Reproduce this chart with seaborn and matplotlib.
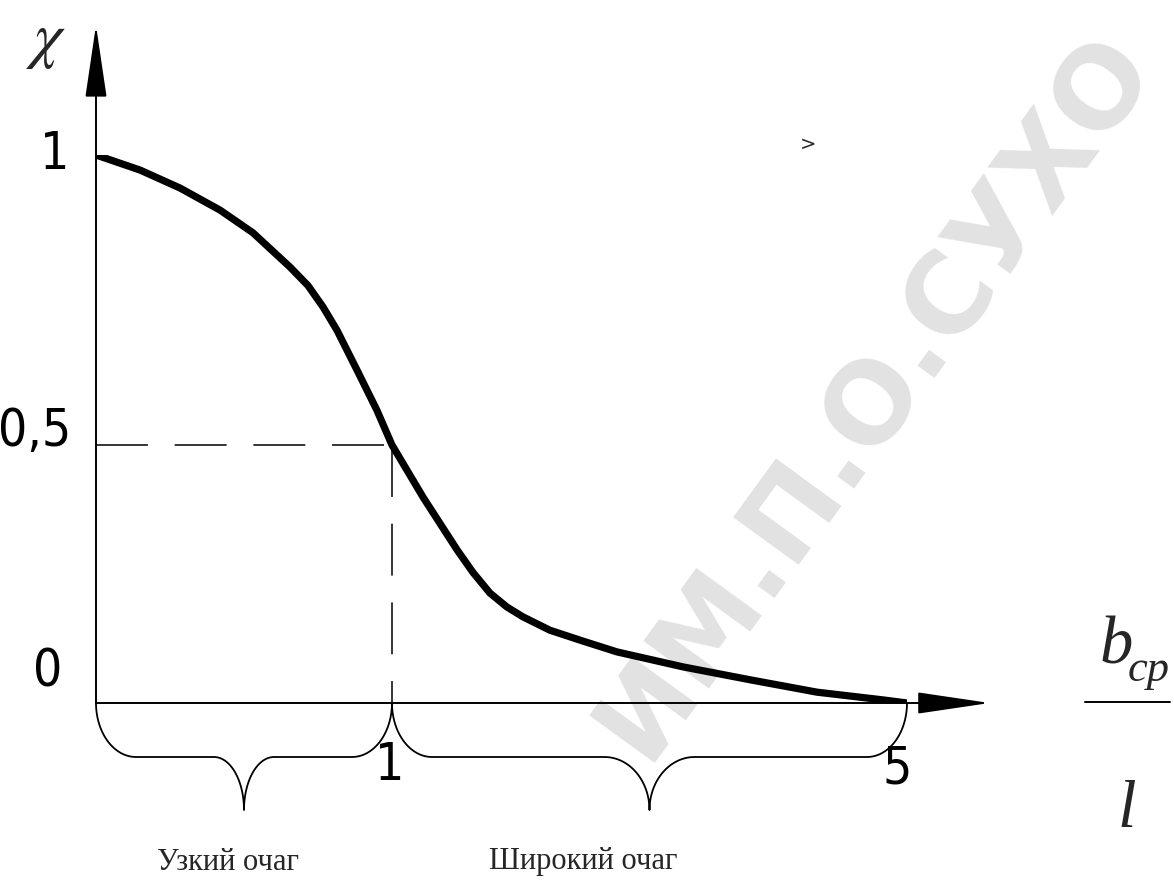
import numpy as np
import matplotlib
matplotlib.use("Agg")
import matplotlib.pyplot as plt
from matplotlib.lines import Line2D
import seaborn as sns

# curve: b_cp / l  vs  chi
ratio = [0.0, 0.149, 0.284, 0.419, 0.530, 0.655, 0.716, 0.767, 0.814, 0.882, 0.949, 1.0,
         1.241, 1.505, 1.629, 1.761, 1.893, 2.017, 2.227, 2.483, 2.748, 3.260, 3.781,
         4.301, 4.814, 5.0]
chi = [1.0, 0.974, 0.943, 0.905, 0.866, 0.807, 0.775, 0.738, 0.698, 0.629, 0.560, 0.5,
       0.399, 0.297, 0.253, 0.213, 0.186, 0.167, 0.141, 0.120, 0.099, 0.070, 0.045,
       0.021, 0.006, 0.0]

ytick_values = [1.0, 0.5, 0.0]
ytick_labels = ["1", "0,5", "0"]
xtick_values = [1, 5]
xtick_labels = ["1", "5"]
mark_x, mark_chi = 1.0, 0.5
zone_bounds = [0.0, 1.0, 5.0]
zone_labels = ["Узкий очаг", "Широкий очаг"]


# the drawing is schematic: axes are piecewise linear
def x_fwd(x):
    x = np.asarray(x, float)
    return np.where(x <= 1, x, 1 + (x - 1) * 0.435)


def x_inv(u):
    u = np.asarray(u, float)
    return np.where(u <= 1, u, 1 + (u - 1) / 0.435)


def y_fwd(y):
    y = np.asarray(y, float)
    return np.where(y <= 0.5, y * 0.9416, 0.4708 + (y - 0.5) * 1.0584)


def y_inv(v):
    v = np.asarray(v, float)
    return np.where(v <= 0.4708, v / 0.9416, 0.5 + (v - 0.4708) / 1.0584)


sns.set_theme(style="white")
plt.rcParams["font.family"] = ["DejaVu Sans"]

W, H = 1174, 884
fig = plt.figure(figsize=(W / 100, H / 100), dpi=100)
fig.patch.set_facecolor("white")
ax = fig.add_axes([96 / W, (H - 703) / H, (907 - 96) / W, (703 - 155) / H])
ax.set_xscale("function", functions=(x_fwd, x_inv))
ax.set_yscale("function", functions=(y_fwd, y_inv))
ax.set_xlim(zone_bounds[0], zone_bounds[-1])
ax.set_ylim(0, 1)
ax.set_axis_off()

# watermark
ax.text(875 / W, 1 - 395 / H, "ИМ.П.О.СУХО", transform=fig.transFigure,
        rotation=54, rotation_mode="anchor", ha="center", va="center",
        fontsize=80, fontweight="bold", color="#e2e2e2", family="DejaVu Sans",
        zorder=0, clip_on=False)

# axes with arrows
arrow = dict(arrowstyle="-|>,head_length=2.3,head_width=0.34", mutation_scale=20,
             lw=1.4, color="black", shrinkA=0, shrinkB=0)
ax.annotate("", xy=(0, 1.237), xytext=(0, 0), xycoords="axes fraction",
            arrowprops=arrow, zorder=3)
ax.annotate("", xy=(1.102, 0), xytext=(0, 0), xycoords="axes fraction",
            arrowprops=arrow, zorder=3)

# dashed guides to the point (1; 0,5)
dash = dict(color="black", lw=1.1, linestyle=(0, (34, 17.5)), zorder=2)
ax.plot([0, mark_x], [mark_chi, mark_chi], **dash)
ax.plot([mark_x, mark_x], [mark_chi, 0], **dash)

sns.lineplot(x=ratio, y=chi, ax=ax, color="black", lw=5.2, estimator=None,
             sort=False, zorder=4)
ax.lines[-1].set_solid_capstyle("round")
ax.lines[-1].set_solid_joinstyle("round")

# tick labels
tick_font = dict(fontsize=37, fontstretch="condensed", color="black",
                 annotation_clip=False)
y_offsets = [(-19, 0), (-18, 9.4), (-24, 22)]
for val, lab, off in zip(ytick_values, ytick_labels, y_offsets):
    ax.annotate(lab, xy=(0, val), xytext=off, textcoords="offset points",
                ha="right", va="center", **tick_font)
x_offsets = [(-1.5, -45), (-7, -48)]
for val, lab, off in zip(xtick_values, xtick_labels, x_offsets):
    ax.annotate(lab, xy=(val, 0), xytext=off, textcoords="offset points",
                ha="center", va="center", **tick_font)


# braces under the x axis
def brace(a, b, end_r, mid_r):
    fig.canvas.draw()
    x0, ya = ax.transData.transform((a, 0))
    x1, _ = ax.transData.transform((b, 0))
    xm = (x0 + x1) / 2
    hb, tip = 54, 107
    t = np.linspace(0, np.pi / 2, 30)
    left = np.c_[x0 + end_r - end_r * np.cos(t), ya - hb * np.sin(t)]
    mid_l = np.c_[xm - mid_r + mid_r * np.sin(t), ya - tip + (tip - hb) * np.cos(t)]
    mid_r_ = np.c_[xm + mid_r - mid_r * np.sin(t[::-1]), ya - tip + (tip - hb) * np.cos(t[::-1])]
    right = np.c_[x1 - end_r + end_r * np.cos(t[::-1]), ya - hb * np.sin(t[::-1])]
    pts = np.vstack([left, mid_l, mid_r_, right])
    data = ax.transData.inverted().transform(pts)
    ax.plot(data[:, 0], data[:, 1], color="black", lw=1.3, clip_on=False, zorder=3)


brace(zone_bounds[0], zone_bounds[1], 40, 30)
brace(zone_bounds[1], zone_bounds[2], 40, 45)

serif = ["Liberation Serif", "DejaVu Serif"]
fig.text(228 / W, 1 - 862 / H, zone_labels[0], ha="center", va="center",
         fontsize=22, family=serif)
fig.text(583 / W, 1 - 862 / H, zone_labels[1], ha="center", va="center",
         fontsize=22, family=serif)

# axis titles
fig.text(46 / W, 1 - 40 / H, r"$\chi$", ha="center", va="center", fontsize=46,
         math_fontfamily="stix")
fig.text(1100 / W, 1 - 663 / H, "b", ha="left", va="baseline", fontsize=48,
         family=serif, style="italic")
fig.text(1128 / W, 1 - 681 / H, "ср", ha="left", va="baseline", fontsize=32,
         family=serif, style="italic")
fig.add_artist(Line2D([1085 / W, 1170 / W], [1 - 702 / H, 1 - 702 / H],
                      color="black", lw=1.4, transform=fig.transFigure))
fig.text(1127 / W, 1 - 827 / H, "l", ha="center", va="baseline", fontsize=48,
         family=serif, style="italic")

fig.text(808 / W, 1 - 144 / H, ">", ha="center", va="center", fontsize=14)

fig.savefig("out.png", dpi=100)
